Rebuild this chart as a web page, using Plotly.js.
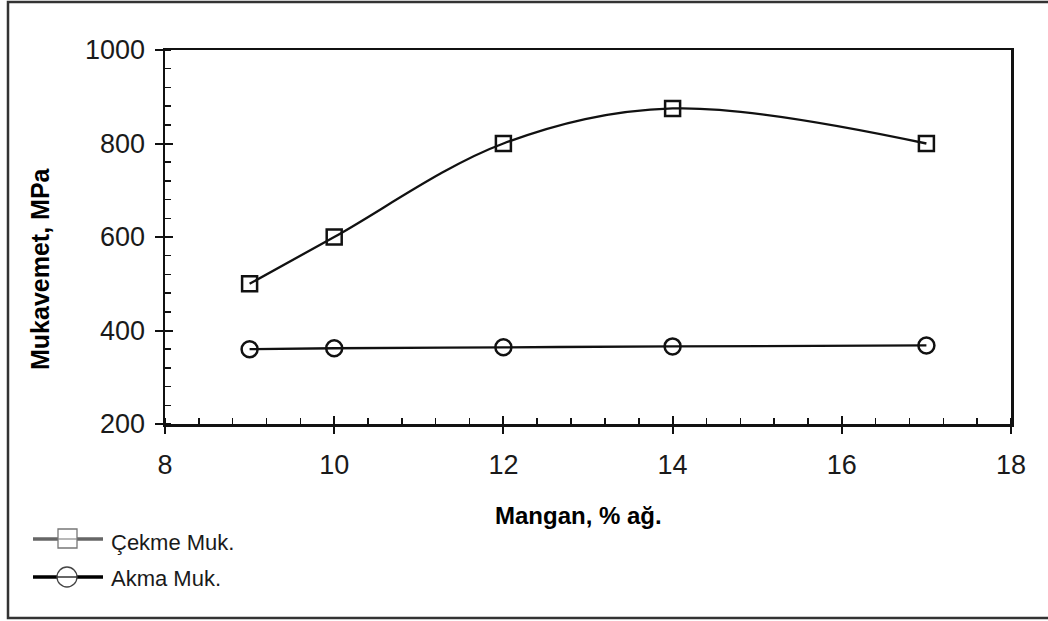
<!DOCTYPE html>
<html>
<head>
<meta charset="utf-8">
<script src="https://cdn.plot.ly/plotly-3.0.1.min.js"></script>
<style>body{margin:0;padding:0;background:#fff;} #chart{width:1048px;height:621px;}</style>
</head>
<body>
<div id="chart"></div>
<script>
const manganX = [9, 10, 12, 14, 17];
const cekmeMuk = [500, 600, 800, 875, 800];
const akmaMuk = [360, 362, 364, 366, 368];
const xTickVals = [8, 10, 12, 14, 16, 18];
const yTickVals = [200, 400, 600, 800, 1000];
const seriesNames = ['Çekme Muk.', 'Akma Muk.'];

const L = 165, R = 37, T = 50, B = 197, W = 1048 - L - R, H = 621 - T - B;
const px = x => (x - L) / W;
const py = y => (T + H - y) / H;

const traces = [
  {x: manganX, y: cekmeMuk, name: seriesNames[0], mode: 'lines+markers', line: {shape: 'spline', color: '#111', width: 2.3},
   marker: {symbol: 'square-open', size: 15, color: '#111', line: {width: 2.5}}, cliponaxis: false},
  {x: manganX, y: akmaMuk, name: seriesNames[1], mode: 'lines+markers', line: {shape: 'spline', color: '#111', width: 2.3},
   marker: {symbol: 'circle-open', size: 16, color: '#111', line: {width: 2.5}}, cliponaxis: false},
  {x: [null], y: [null], xaxis: 'x2', yaxis: 'y2', showlegend: false, hoverinfo: 'skip'}
];

const fam = 'Liberation Sans, Arial, sans-serif';
const tickFont = {family: fam, size: 27, color: '#1a1a1a'};
const shapes = [
  {type: 'rect', xref: 'paper', yref: 'paper', x0: px(8), x1: px(1052), y0: py(618), y1: py(2),
   line: {color: '#333', width: 2.5}, fillcolor: 'rgba(0,0,0,0)'},
  // legend: Çekme Muk.
  {type: 'line', xref: 'paper', yref: 'paper', x0: px(33), x1: px(58), y0: py(539), y1: py(539), line: {color: '#666', width: 3.5}},
  {type: 'line', xref: 'paper', yref: 'paper', x0: px(77), x1: px(103), y0: py(539), y1: py(539), line: {color: '#666', width: 3.5}},
  {type: 'rect', xref: 'paper', yref: 'paper', x0: px(58), x1: px(77), y0: py(548), y1: py(529), line: {color: '#777', width: 1.3}, fillcolor: 'rgba(0,0,0,0)'},
  {type: 'line', xref: 'paper', yref: 'paper', x0: px(58), x1: px(77), y0: py(539), y1: py(539), line: {color: '#888', width: 1.2}},
  // legend: Akma Muk.
  {type: 'line', xref: 'paper', yref: 'paper', x0: px(33), x1: px(57), y0: py(577), y1: py(577), line: {color: '#000', width: 3.5}},
  {type: 'line', xref: 'paper', yref: 'paper', x0: px(77), x1: px(103), y0: py(577), y1: py(577), line: {color: '#000', width: 3.5}},
  {type: 'circle', xref: 'paper', yref: 'paper', x0: px(57), x1: px(77), y0: py(587), y1: py(567), line: {color: '#444', width: 1.3}, fillcolor: 'rgba(0,0,0,0)'},
  {type: 'line', xref: 'paper', yref: 'paper', x0: px(57), x1: px(77), y0: py(577), y1: py(577), line: {color: '#333', width: 1.5}}
];

const layout = {
  width: 1048, height: 621,
  margin: {l: L, r: R, t: T, b: B},
  paper_bgcolor: '#fff', plot_bgcolor: '#fff',
  showlegend: false,
  xaxis: {range: [8, 18], tickvals: xTickVals, ticks: 'outside', ticklen: 7, tickwidth: 2, tickcolor: '#111',
          showline: true, linecolor: '#111', linewidth: 2.5, mirror: true, showgrid: false, zeroline: false,
          tickfont: tickFont, ticklabelstandoff: 8,
          minor: {dtick: 0.4, ticks: 'inside', ticklen: 6, tickwidth: 1.5, tickcolor: '#111', showgrid: false}},
  xaxis2: {overlaying: 'x', range: [8, 18], tickvals: xTickVals, ticks: 'inside', ticklen: 8, tickwidth: 2, tickcolor: '#111',
           showticklabels: false, showgrid: false, zeroline: false, showline: false, side: 'bottom'},
  yaxis: {range: [200, 1000], tickvals: yTickVals, ticks: 'outside', ticklen: 8, tickwidth: 2, tickcolor: '#111',
          showline: true, linecolor: '#111', linewidth: 2.5, mirror: true, showgrid: false, zeroline: false,
          tickfont: tickFont, ticklabelstandoff: 4,
          minor: {dtick: 40, ticks: 'inside', ticklen: 6, tickwidth: 1.5, tickcolor: '#111', showgrid: false}},
  yaxis2: {overlaying: 'y', range: [200, 1000], tickvals: yTickVals, ticks: 'inside', ticklen: 8, tickwidth: 2, tickcolor: '#111',
           showticklabels: false, showgrid: false, zeroline: false, showline: false, side: 'left'},
  annotations: [
    {text: 'Mangan, % ağ.', xref: 'paper', yref: 'paper', x: px(578), y: py(515), showarrow: false,
     font: {family: fam, size: 24, color: '#000', weight: 'bold'}, xanchor: 'center', yanchor: 'middle'},
    {text: 'Mukavemet, MPa', xref: 'paper', yref: 'paper', x: px(40), y: py(269), showarrow: false, textangle: -90,
     font: {family: fam, size: 25, color: '#000', weight: 'bold'}, xanchor: 'center', yanchor: 'middle'},
    {text: seriesNames[0], xref: 'paper', yref: 'paper', x: px(109), y: py(542), showarrow: false,
     font: {family: fam, size: 22, color: '#1a1a1a'}, xanchor: 'left', yanchor: 'middle'},
    {text: seriesNames[1], xref: 'paper', yref: 'paper', x: px(109), y: py(578), showarrow: false,
     font: {family: fam, size: 22, color: '#1a1a1a'}, xanchor: 'left', yanchor: 'middle'}
  ],
  shapes: shapes
};
Plotly.newPlot('chart', traces, layout, {displayModeBar: false, staticPlot: true});
</script>
</body>
</html>
